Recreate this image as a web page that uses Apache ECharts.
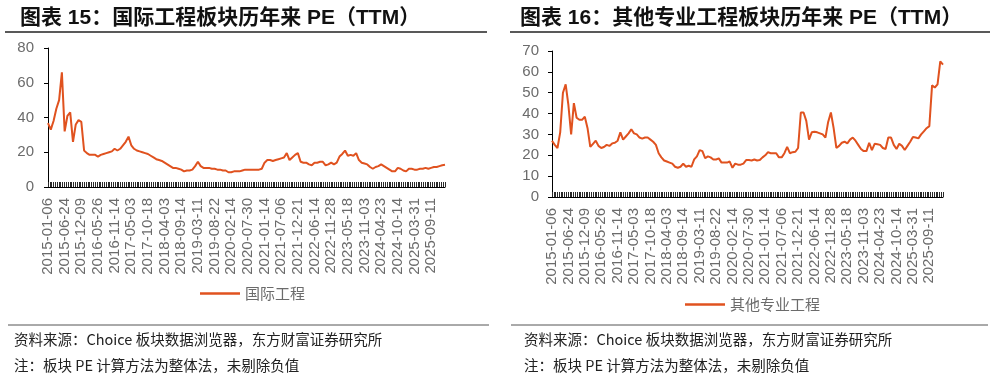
<!DOCTYPE html>
<html>
<head>
<meta charset="utf-8">
<script src="https://cdn.jsdelivr.net/npm/echarts@6/dist/echarts.min.js"></script>
<style>
html,body{margin:0;padding:0;background:#fff;}
#chart{width:997px;height:380px;}
</style>
</head>
<body>
<div id="chart"></div>
<script>
// Tick label dates shown on both x axes
const labelDates = ['2015-01-06','2015-06-24','2015-12-09','2016-05-26','2016-11-14','2017-05-03','2017-10-18','2018-04-03','2018-09-14','2019-03-11','2019-08-22','2020-02-14','2020-07-30','2021-01-14','2021-07-06','2021-12-21','2022-06-14','2022-11-28','2023-05-18','2023-11-03','2024-04-23','2024-10-14','2025-03-31','2025-09-11'];
const pointsPerLabel = 6;

// 国际工程 PE (TTM), sampled 6 points per label interval
const intlEngPE = [36.8,33,38,45,50,66,32,41,43,26,36,38.5,37.5,21,19.5,18.5,18.5,18.5,17.5,18.5,19,19.5,20,20.5,22,21,22,24,26,29,24,22,21,20.5,20,19.5,19,18,17,16,15.5,15,14,13,12,11,11,10.5,10,9,9.5,9.5,10,12,14.5,12,11,11,11,10.5,10.5,10,10,9.5,9.5,8.5,8.5,9,9,9,9.5,10,10,10,10,10,10,10.5,14,15.5,15.5,15,15.5,16,16.5,17,19.5,15.5,17,18.5,19.5,14.5,14,14,13,12.5,14,14,14.5,14.5,12.5,13,14,13,14,17.5,19,21,18,18.5,18,19.5,15.5,14,13.5,13,11.5,10.5,11.5,12,13,12,11,10,9,9,11,10.5,9.5,9,10.5,10.5,10,10,10.5,10.5,11,10.5,11,11.5,11.5,12,12.5,12.8];

// 其他专业工程 PE (TTM), sampled 6 points per label interval
const otherEngPE = [27,25,23.5,31,50,54,44,30,45,38,37,37,38.5,33,24,25.5,27,24.5,23.5,24,25,24.5,25.7,26,27,31,27.5,29,30.5,32.5,30.5,30,28.5,28,28.5,28.5,27.5,26.5,25,21,19,17.5,17,16.5,16,14.5,14,14.5,16,14.5,15,14.5,18,19.5,22.5,22,18.6,19.5,19,18,18,18.5,16.5,16.5,16.5,17,14,16,15.5,15.5,16,17.7,17.7,17.5,18,17.5,17.7,19,20,21.5,21,21,21,19,19,21,24,21,21.5,21.7,23.5,40.5,40.5,36.5,27.5,31,31.3,31,30.5,30,28.5,36,40.5,33,23.5,24.5,26,26.5,25.7,27.5,28.5,27,25,23,22,22,26,22.5,25.5,25.3,25,23.5,23,28.5,28.5,25,23,25.5,24.5,22.5,24.5,26.5,28.8,28.5,28.1,30,31.5,33,34,53.5,52.5,54,65,63.5];

const seriesNames = ['国际工程', '其他专业工程'];
const titles = ['图表 15：国际工程板块历年来 PE（TTM）', '图表 16：其他专业工程板块历年来 PE（TTM）'];
const sourceText = '资料来源：Choice 板块数据浏览器，东方财富证券研究所';
const noteText = '注：板块 PE 计算方法为整体法，未剔除负值';

function buildCategories(n) {
  const t = labelDates.map(d => Date.parse(d + 'T00:00:00Z'));
  const lastSpan = t[t.length - 1] - t[t.length - 2];
  const cats = [];
  for (let k = 0; k < n; k++) {
    const i = Math.floor(k / pointsPerLabel), j = k % pointsPerLabel;
    if (j === 0 && i < labelDates.length) { cats.push(labelDates[i]); continue; }
    const t0 = t[i];
    const t1 = (i + 1 < t.length) ? t[i + 1] : t0 + lastSpan;
    const tm = t0 + (t1 - t0) * j / pointsPerLabel;
    cats.push(new Date(tm).toISOString().slice(0, 10));
  }
  return cats;
}

const cats1 = buildCategories(intlEngPE.length);
const cats2 = buildCategories(otherEngPE.length);
const denseTicks = new Array(220).fill('');

const lineColor = '#E0521F';
const labelColor = '#6b6b6b';
const latin = 'Liberation Sans, Arial, Noto Sans CJK SC';
const cjk = 'Noto Sans CJK SC';

function mainX(gridIndex, cats) {
  return {
    type: 'category', gridIndex, data: cats, boundaryGap: false,
    axisLine: { show: true, lineStyle: { color: '#000', width: 1 } },
    axisTick: { show: false },
    axisLabel: { interval: pointsPerLabel - 1, rotate: 90, margin: 11, color: labelColor, fontSize: 15, fontFamily: latin },
    splitLine: { show: false }
  };
}
function tickX(gridIndex) {
  return {
    type: 'category', gridIndex, data: denseTicks, boundaryGap: false, position: 'bottom',
    axisLine: { show: false },
    axisTick: { show: true, inside: true, length: 5, interval: 0, lineStyle: { color: '#2a2a2a', width: 1 } },
    axisLabel: { show: false }, splitLine: { show: false }
  };
}
function yAx(gridIndex, max, interval, margin) {
  return {
    type: 'value', gridIndex, min: 0, max, interval,
    axisLine: { show: true, lineStyle: { color: '#000', width: 1 } },
    axisTick: { show: true, length: 4, lineStyle: { color: '#000' } },
    axisLabel: { color: labelColor, fontSize: 15, fontFamily: latin, margin },
    splitLine: { show: false }
  };
}

const legendIcon = 'rect';
const chart = echarts.init(document.getElementById('chart'), null, { renderer: 'canvas' });
chart.setOption({
  animation: false,
  backgroundColor: '#fff',
  title: [
    { text: titles[0], left: 15, top: 3, textStyle: { fontSize: 21, fontWeight: 'bold', color: '#111', fontFamily: latin } },
    { text: titles[1], left: 515, top: 3, textStyle: { fontSize: 21, fontWeight: 'bold', color: '#111', fontFamily: latin } }
  ],
  grid: [
    { left: 48, top: 48, width: 397, height: 139 },
    { left: 552, top: 51, width: 391, height: 146 }
  ],
  legend: [
    { data: [{ name: seriesNames[0], icon: legendIcon }], left: 195, top: 281, itemWidth: 40, itemHeight: 2.5, itemGap: 5,
      textStyle: { color: labelColor, fontSize: 15, fontFamily: cjk } },
    { data: [{ name: seriesNames[1], icon: legendIcon }], left: 680, top: 292, itemWidth: 40, itemHeight: 2.5, itemGap: 5,
      textStyle: { color: labelColor, fontSize: 15, fontFamily: cjk } }
  ],
  xAxis: [ mainX(0, cats1), mainX(1, cats2), tickX(0), tickX(1) ],
  yAxis: [ yAx(0, 80, 20, 14), yAx(1, 70, 10, 13) ],
  series: [
    { name: seriesNames[0], type: 'line', xAxisIndex: 0, yAxisIndex: 0, data: intlEngPE,
      symbol: 'none', lineStyle: { color: lineColor, width: 2 }, itemStyle: { color: lineColor } },
    { name: seriesNames[1], type: 'line', xAxisIndex: 1, yAxisIndex: 1, data: otherEngPE,
      symbol: 'none', lineStyle: { color: lineColor, width: 2 }, itemStyle: { color: lineColor } }
  ],
  graphic: [
    { type: 'line', shape: { x1: 5, y1: 32, x2: 487, y2: 32 }, style: { stroke: '#222', lineWidth: 1.5 } },
    { type: 'line', shape: { x1: 510, y1: 32, x2: 990, y2: 32 }, style: { stroke: '#222', lineWidth: 1.5 } },
    { type: 'line', shape: { x1: 8, y1: 325, x2: 489, y2: 325 }, style: { stroke: '#555', lineWidth: 1 } },
    { type: 'line', shape: { x1: 511, y1: 325, x2: 988, y2: 325 }, style: { stroke: '#555', lineWidth: 1 } },
    { type: 'text', left: 14, top: 332, style: { text: sourceText, fill: '#222', font: '14.5px ' + cjk } },
    { type: 'text', left: 14, top: 358, style: { text: noteText, fill: '#222', font: '14.5px ' + cjk } },
    { type: 'text', left: 524, top: 332, style: { text: sourceText, fill: '#222', font: '14.5px ' + cjk } },
    { type: 'text', left: 524, top: 358, style: { text: noteText, fill: '#222', font: '14.5px ' + cjk } }
  ]
});
</script>
</body>
</html>
